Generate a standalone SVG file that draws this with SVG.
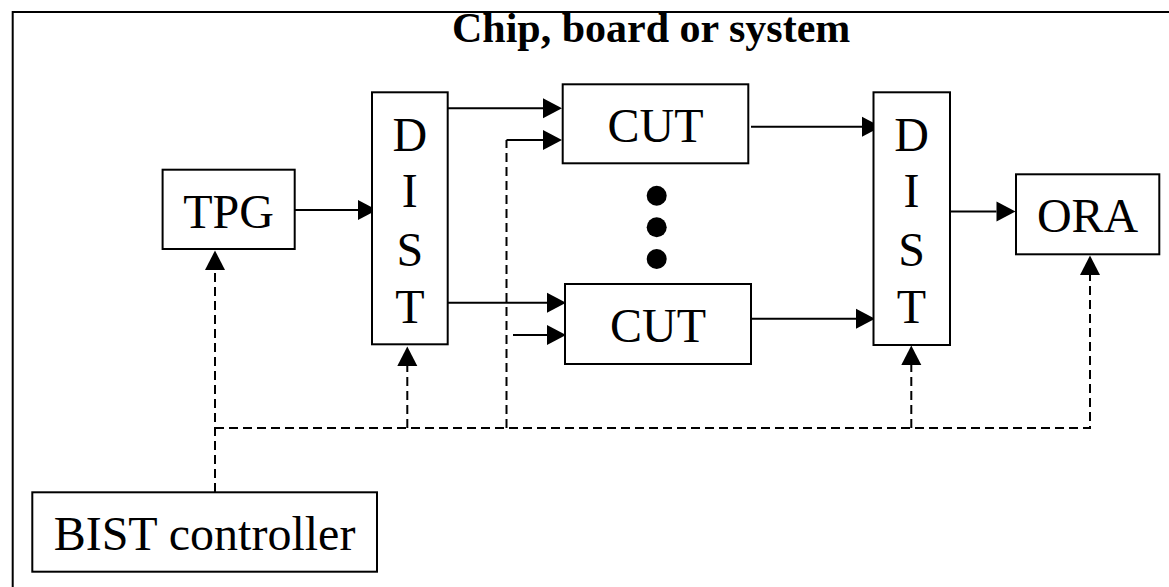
<svg xmlns="http://www.w3.org/2000/svg" width="1169" height="587" viewBox="0 0 1169 587">
<style>
.box{fill:#fff;stroke:#000;stroke-width:2}
.lbl{font-family:"Liberation Serif","Times New Roman",serif;font-size:48px;fill:#000;text-anchor:middle}
.title{font-family:"Liberation Serif","Times New Roman",serif;font-size:42px;font-weight:bold;fill:#000}
.solid{fill:none;stroke:#000;stroke-width:2}
.dash{fill:none;stroke:#000;stroke-width:2;stroke-dasharray:9 5}
</style>
<rect width="1169" height="587" fill="#fff"/>
<g id="frame">
<rect x="12.7" y="12" width="1200" height="620" fill="none" stroke="#000" stroke-width="2"/>
<text class="title" x="452" y="41.7">Chip, board or system</text>
</g>
<g id="connectors">
<path class="dash" d="M215,492 V270"/>
<path class="dash" d="M215,428 H1090 V275"/>
<path class="dash" d="M407.3,428 V366"/>
<path class="dash" d="M506.5,428 V140"/>
<path class="dash" d="M911.3,428 V365"/>
<path class="solid" d="M294.7,210 H358"/>
<path class="solid" d="M447.7,108.3 H543"/>
<path class="solid" d="M506.5,140 H543"/>
<path class="solid" d="M447.7,302.7 H547"/>
<path class="solid" d="M513,335 H547"/>
<path class="solid" d="M751,126.7 H862"/>
<path class="solid" d="M751,318.7 H856"/>
<path class="solid" d="M951,211.5 H996.5"/>
<g fill="#000" stroke="none">
<path d="M358,200 L377,210 L358,220 Z"/>
<path d="M543,98.3 L562,108.3 L543,118.3 Z"/>
<path d="M543,130 L562,140 L543,150 Z"/>
<path d="M547,292.7 L566,302.7 L547,312.7 Z"/>
<path d="M547,325 L566,335 L547,345 Z"/>
<path d="M862,116.7 L881,126.7 L862,136.7 Z"/>
<path d="M856,308.7 L875,318.7 L856,328.7 Z"/>
<path d="M996.5,201.5 L1015.5,211.5 L996.5,221.5 Z"/>
<path d="M205,270 L215,250.5 L225,270 Z"/>
<path d="M397.3,366 L407.3,346.5 L417.3,366 Z"/>
<path d="M901.3,365 L911.3,345.5 L921.3,365 Z"/>
<path d="M1080,275 L1090,255.5 L1100,275 Z"/>
</g>
</g>
<g id="tpg">
<rect class="box" x="162.6" y="169.7" width="132.1" height="79.3"/>
<text class="lbl" x="228.6" y="227.5">TPG</text>
</g>
<g id="dist1">
<rect class="box" x="372" y="92.3" width="75.7" height="252"/>
<text class="lbl" x="409.8" y="150.5">D</text>
<text class="lbl" x="409.8" y="206.7">I</text>
<text class="lbl" x="409.8" y="265.5">S</text>
<text class="lbl" x="409.8" y="322.5">T</text>
</g>
<g id="cut1">
<rect class="box" x="562.7" y="84.3" width="185.6" height="79"/>
<text class="lbl" x="655.5" y="141.7">CUT</text>
</g>
<g id="dots">
<circle cx="656.7" cy="195.7" r="10" fill="#000"/>
<circle cx="656.7" cy="227.3" r="10" fill="#000"/>
<circle cx="656.7" cy="259" r="10" fill="#000"/>
</g>
<g id="cut2">
<rect class="box" x="565" y="284" width="186" height="80"/>
<text class="lbl" x="658" y="341.7">CUT</text>
</g>
<g id="dist2">
<rect class="box" x="873.5" y="92.3" width="76.5" height="252.7"/>
<text class="lbl" x="911.5" y="150.5">D</text>
<text class="lbl" x="911.5" y="206.7">I</text>
<text class="lbl" x="911.5" y="265.5">S</text>
<text class="lbl" x="911.5" y="322.5">T</text>
</g>
<g id="ora">
<rect class="box" x="1016" y="174.3" width="143.3" height="80"/>
<text class="lbl" x="1087.6" y="232.3">ORA</text>
</g>
<g id="bist">
<rect class="box" x="32.3" y="492.3" width="344.7" height="79.4"/>
<text class="lbl" x="204.5" y="550">BIST controller</text>
</g>
</svg>
